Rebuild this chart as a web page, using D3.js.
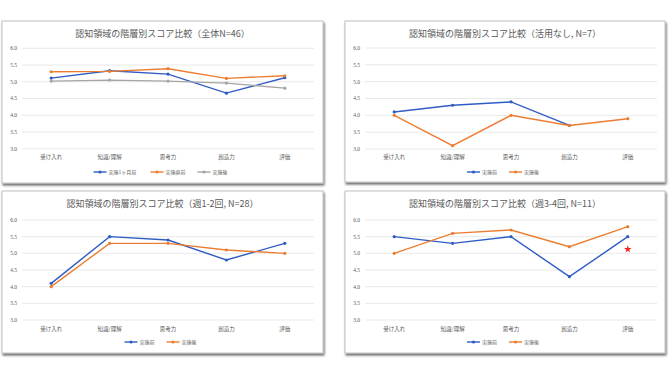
<!DOCTYPE html>
<html lang="ja">
<head>
<meta charset="UTF-8">
<script src="https://d3js.org/d3.v7.min.js"></script>
<style>
  body { margin: 0; background: #fff; font-family: "Noto Sans CJK JP", sans-serif; }
  .tick-y { font-family: "Liberation Serif", serif; font-size: 5.5px; fill: #595959; }
  .cat { font-size: 5.5px; fill: #595959; }
  .title { font-size: 9px; fill: #595959; }
  .leg { font-size: 5px; fill: #595959; }
</style>
</head>
<body>
<div id="chart"></div>
<script>
const categories = ["受け入れ", "知識/理解", "思考力", "創造力", "評価"];
const yTicks = [3.0, 3.5, 4.0, 4.5, 5.0, 5.5, 6.0];

const titles = [
  "認知領域の階層別スコア比較（全体N=46）",
  "認知領域の階層別スコア比較（活用なし, N=7）",
  "認知領域の階層別スコア比較（週1-2回, N=28）",
  "認知領域の階層別スコア比較（週3-4回, N=11）"
];

// 全体
const all1MonthBefore = [5.11, 5.33, 5.23, 4.66, 5.12];
const allJustBefore   = [5.30, 5.31, 5.39, 5.10, 5.18];
const allAfter        = [5.02, 5.05, 5.02, 4.96, 4.81];
// 活用なし
const noneBefore = [4.1, 4.3, 4.4, 3.7, null];
const noneAfter  = [4.0, 3.1, 4.0, 3.7, 3.9];
// 週1-2回
const w12Before = [4.1, 5.5, 5.4, 4.8, 5.3];
const w12After  = [4.0, 5.3, 5.3, 5.1, 5.0];
// 週3-4回
const w34Before = [5.5, 5.3, 5.5, 4.3, 5.5];
const w34After  = [5.0, 5.6, 5.7, 5.2, 5.8];
const w34Star   = [null, null, null, null, 5.12];

const BLUE = "#2f5cc4", ORANGE = "#ed7d31", GRAY = "#a5a5a5";

const panels = [
  { box: [2, 21, 321, 162], grid: [22, 314], y: [148.7, 48.3], titleY: 37, catY: 159, legY: 172,
    title: titles[0],
    series: [
      { name: "実施1ヶ月前", values: all1MonthBefore, color: BLUE },
      { name: "実施直前", values: allJustBefore, color: ORANGE },
      { name: "実施後", values: allAfter, color: GRAY }
    ] },
  { box: [345, 21, 320, 161], grid: [365, 657], y: [149, 48], titleY: 37, catY: 159, legY: 172,
    title: titles[1],
    series: [
      { name: "実施前", values: noneBefore, color: BLUE },
      { name: "実施後", values: noneAfter, color: ORANGE }
    ] },
  { box: [2, 191, 321, 162], grid: [22, 314], y: [320, 220], titleY: 207, catY: 331, legY: 342,
    title: titles[2],
    series: [
      { name: "実施前", values: w12Before, color: BLUE },
      { name: "実施後", values: w12After, color: ORANGE }
    ] },
  { box: [345, 191, 320, 162], grid: [365, 657], y: [320, 220], titleY: 207, catY: 331, legY: 342,
    title: titles[3], star: w34Star,
    series: [
      { name: "実施前", values: w34Before, color: BLUE },
      { name: "実施後", values: w34After, color: ORANGE }
    ] }
];

const svg = d3.select("#chart").append("svg")
  .attr("width", 670).attr("height", 377);

const defs = svg.append("defs");
defs.append("filter").attr("id", "shadow")
  .attr("x", "-5%").attr("y", "-5%").attr("width", "110%").attr("height", "115%")
  .append("feDropShadow")
  .attr("dx", 1).attr("dy", 2).attr("stdDeviation", 1)
  .attr("flood-color", "#000").attr("flood-opacity", 0.6);

panels.forEach(p => {
  const g = svg.append("g");
  const [bx, by, bw, bh] = p.box;

  g.append("rect")
    .attr("x", bx).attr("y", by).attr("width", bw).attr("height", bh)
    .attr("fill", "#fff").attr("stroke", "#c0c0c0").attr("stroke-width", 1)
    .attr("filter", "url(#shadow)");

  const x = d3.scalePoint().domain(categories).range(p.grid).padding(0.5);
  const y = d3.scaleLinear().domain([3, 6]).range(p.y);

  // grid
  g.selectAll(".grid").data(yTicks).enter().append("line")
    .attr("x1", p.grid[0]).attr("x2", p.grid[1])
    .attr("y1", d => y(d)).attr("y2", d => y(d))
    .attr("stroke", "#e3e3e3").attr("stroke-width", 0.8);

  g.selectAll(".tick-y").data(yTicks).enter().append("text")
    .attr("class", "tick-y")
    .attr("x", p.grid[0] - 5).attr("y", d => y(d)).attr("dy", "0.35em")
    .attr("text-anchor", "end")
    .text(d3.format(".1f"));

  g.selectAll(".cat").data(categories).enter().append("text")
    .attr("class", "cat")
    .attr("x", d => x(d)).attr("y", p.catY)
    .attr("text-anchor", "middle")
    .text(d => d);

  g.append("text").attr("class", "title")
    .attr("x", bx + bw / 2).attr("y", p.titleY)
    .attr("text-anchor", "middle")
    .text(p.title);

  const line = d3.line()
    .defined(d => d != null)
    .x((d, i) => x(categories[i]))
    .y(d => y(d));

  p.series.forEach(s => {
    g.append("path").datum(s.values)
      .attr("d", line)
      .attr("fill", "none").attr("stroke", s.color).attr("stroke-width", 1.4);
    g.selectAll(null).data(s.values.map((v, i) => [v, i]).filter(d => d[0] != null))
      .enter().append("circle")
      .attr("cx", d => x(categories[d[1]])).attr("cy", d => y(d[0]))
      .attr("r", 1.6).attr("fill", s.color);
  });

  if (p.star) {
    g.selectAll(null).data(p.star.map((v, i) => [v, i]).filter(d => d[0] != null))
      .enter().append("path")
      .attr("d", d3.symbol(d3.symbolStar, 18))
      .attr("transform", d => `translate(${x(categories[d[1]])},${y(d[0])})`)
      .attr("fill", "#ff2020");
  }

  // legend
  const itemW = p.series.map(s => 16 + s.name.length * 5 + 11);
  const total = d3.sum(itemW);
  let lx = bx + bw / 2 - total / 2 + 4;
  p.series.forEach((s, i) => {
    const lg = g.append("g").attr("transform", `translate(${lx},${p.legY})`);
    lg.append("line").attr("x1", 0).attr("x2", 13).attr("y1", 0).attr("y2", 0)
      .attr("stroke", s.color).attr("stroke-width", 1.4);
    lg.append("circle").attr("cx", 6.5).attr("cy", 0).attr("r", 1.6).attr("fill", s.color);
    lg.append("text").attr("class", "leg")
      .attr("x", 15).attr("y", 0).attr("dy", "0.35em").text(s.name);
    lx += itemW[i];
  });
});
</script>
</body>
</html>
